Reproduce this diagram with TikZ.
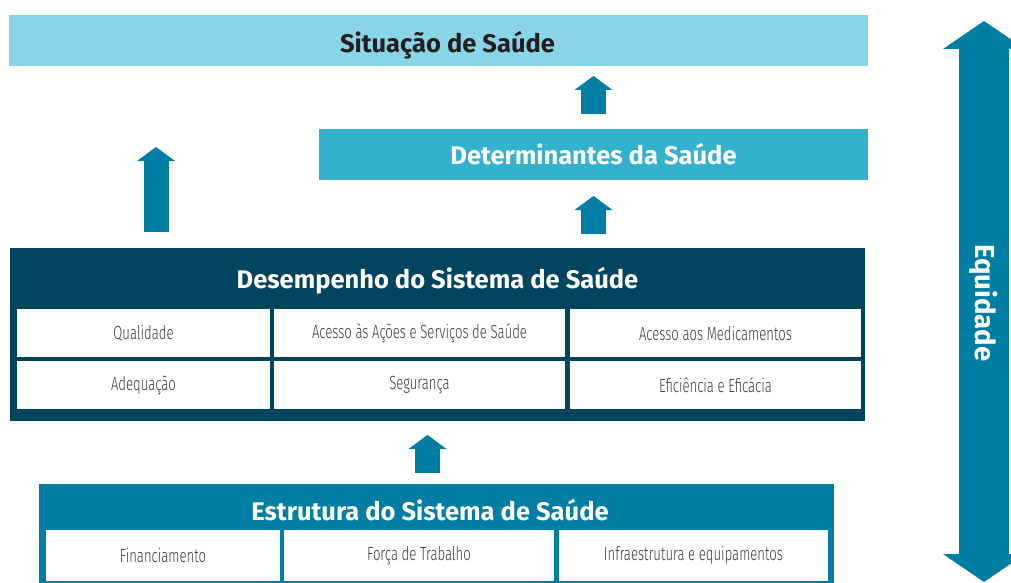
\documentclass[tikz,border=0pt]{standalone}
\usepackage{fontspec}
\usepackage{tikz}
\usetikzlibrary{arrows.meta,calc}
\setmainfont{Fira Sans}
\newfontfamily\boxfont{Fira Sans}
\newfontfamily\cellfont{Fira Sans Light}[FakeStretch=0.69]
\definecolor{sitblue}{RGB}{137,212,232}
\definecolor{detblue}{RGB}{51,177,205}
\definecolor{midblue}{RGB}{0,125,163}
\definecolor{darkblue}{RGB}{0,68,94}
\definecolor{celltext}{RGB}{60,60,60}
\definecolor{titletext}{RGB}{35,31,32}
\begin{document}
\begin{tikzpicture}[x=1pt,y=-1pt,
		box/.style={rectangle,inner sep=0pt,outer sep=0pt},
		title/.style={font=\boxfont\bfseries\fontsize{25.5}{28}\selectfont},
		cell/.style={box,fill=white,text=celltext,font=\cellfont\fontsize{19}{21}\selectfont},
		blockarrow/.style={draw=midblue,line width=25pt,-{Triangle[width=38pt,length=14pt,line width=0pt]}}]
		\useasboundingbox (0,0) rectangle (1011,583);
		\clip (0,0) rectangle (1011,583);
		\node [box,fill=sitblue,minimum width=859,minimum height=51,title,text=titletext,text height=25pt,text depth=0pt] (sit) at (438.5,40.5) {\hspace*{18pt}Situação de Saúde};
		\node [box,fill=detblue,minimum width=549,minimum height=51,title,text=white] (det) at (593.5,154.5) {Determinantes da Saúde};
		\node [box,fill=darkblue,minimum width=855,minimum height=173] (desemp) at (437.5,334.5) {};
		\node [title,text=white] (desemptitle) at (437.5,281) {Desempenho do Sistema de Saúde};
		\node [cell,minimum width=253,minimum height=48] (qualidade) at (143.5,333) {Qualidade};
		\node [cell,minimum width=291,minimum height=48] (acesso) at (419.5,333) {Acesso às Ações e Serviços de Saúde};
		\node [cell,minimum width=291,minimum height=48] (medic) at (715.5,333) {Acesso aos Medicamentos};
		\node [cell,minimum width=253,minimum height=48] (adequacao) at (143.5,385) {Adequação};
		\node [cell,minimum width=291,minimum height=48] (seguranca) at (419.5,385) {Segurança};
		\node [cell,minimum width=291,minimum height=48] (eficiencia) at (715.5,385) {Eficiência e Eficácia};
		\node [box,fill=midblue,minimum width=795,minimum height=99] (estr) at (436.5,533.5) {};
		\node [title,text=white] (estrtitle) at (430,510) {Estrutura do Sistema de Saúde};
		\node [cell,minimum width=234,minimum height=51] (financ) at (163,555.5) {Financiamento};
		\node [cell,minimum width=270,minimum height=51] (forca) at (419,555.5) {Força de Trabalho};
		\node [cell,minimum width=269,minimum height=51] (infra) at (693.5,555.5) {Infraestrutura e equipamentos};
		\draw [blockarrow] ($(det.north)+(0pt,15pt)$) -- ($(det.north |- sit.south)+(0pt,-10pt)$);
		\draw [blockarrow] ($(det.south |- desemp.north)+(0pt,14pt)$) -- ($(det.south)+(0pt,-16pt)$);
		\coordinate (leftup) at (156,147);
		\draw [blockarrow] ($(leftup |- desemp.north)+(0pt,16pt)$) -- (leftup);
		\draw [blockarrow] ($(estr.north)+(-9pt,11pt)$) -- ($(estr.north |- desemp.south)+(-9pt,-14pt)$);
		\coordinate (eqtop) at (984,21);
		\coordinate (eqbot) at (984,582);
		\draw [draw=midblue,line width=50pt,{Triangle[width=82pt,length=28pt,line width=0pt]}-{Triangle[width=82pt,length=28pt,line width=0pt]}] (eqtop) -- (eqbot);
		\node [rotate=-90,text=white,font=\boxfont\bfseries\fontsize{27.5}{30}\selectfont] (equidade) at (984,303) {Equidade};
\end{tikzpicture}
\end{document}
